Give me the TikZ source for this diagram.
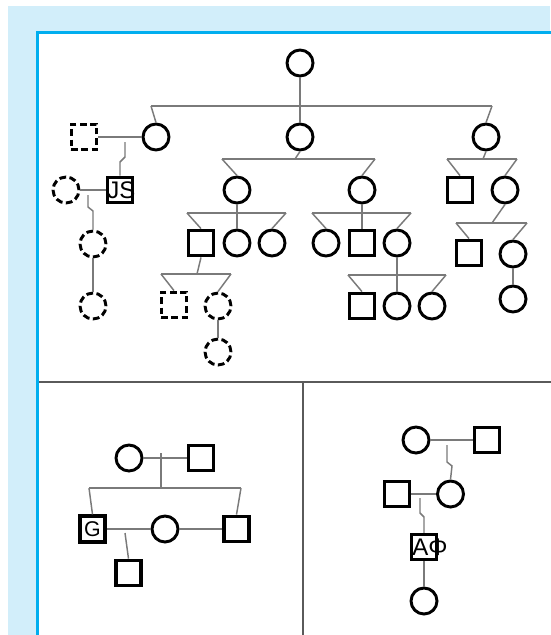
\documentclass[tikz,border=0pt]{standalone}
\usepackage{fontspec}
\setmainfont{Liberation Sans}
\definecolor{bgblue}{HTML}{D2EEFA}
\definecolor{frameblue}{HTML}{00AEEF}
\definecolor{conngray}{HTML}{7A7A7A}
\definecolor{divgray}{HTML}{5A5A5A}
\begin{document}
\begin{tikzpicture}[x=0.75pt,y=-0.75pt,
  fem/.style={circle,draw=black,fill=white,line width=2.2pt,minimum size=19.5pt,inner sep=0pt},
  mal/.style={rectangle,draw=black,fill=white,line width=2.6pt,minimum size=19pt,inner sep=0pt},
  unk/.style={dash pattern=on 5pt off 2.6pt},
  conn/.style={draw=conngray,line width=1.1pt},
  divider/.style={draw=divgray,line width=1.1pt},
  lbl/.style={font=\fontsize{18}{18}\selectfont,inner sep=0pt}]
% background and frame
\fill[white] (0,0) rectangle (550,635);
\useasboundingbox (0,0) rectangle (550,635);
\fill[bgblue] (8,6) rectangle (550,635);
\fill[white] (37.5,32.5) rectangle (550,635);
\draw[frameblue,line width=2.25pt] (37.5,640) -- (37.5,32.5) -- (555,32.5);
\draw[divider] (39,382) -- (555,382);
\draw[divider] (303,382) -- (303,640);

% ---------- top panel nodes ----------
\node[fem] (n1) at (300,63) {};
\node[mal,unk] (sd1) at (84,137) {};
\node[fem] (c2a) at (156,137) {};
\node[fem] (c2b) at (300,137) {};
\node[fem] (c2c) at (486,137) {};
\node[mal,label={[lbl,xshift=1pt]center:JS}] (js) at (120,190) {};
\node[fem,unk] (dc1) at (66,190) {};
\node[fem,unk] (dc2) at (93,244) {};
\node[fem,unk] (dc3) at (93,306) {};
\node[fem] (c3a) at (237,190) {};
\node[fem] (c3b) at (362,190) {};
\node[mal] (sq3c) at (460,190) {};
\node[fem] (c3d) at (505,190) {};
\node[mal] (sq4a) at (201,243) {};
\node[fem] (c4b) at (237,243) {};
\node[fem] (c4c) at (272,243) {};
\node[fem] (c4d) at (326,243) {};
\node[mal] (sq4e) at (362,243) {};
\node[fem] (c4f) at (397,243) {};
\node[mal] (sq4g) at (469,253) {};
\node[fem] (c4h) at (513,254) {};
\node[fem] (c5h) at (513,299) {};
\node[mal,unk] (dsq5a) at (174,305) {};
\node[fem,unk] (dc5b) at (218,306) {};
\node[mal] (sq5c) at (362,306) {};
\node[fem] (c5d) at (397,306) {};
\node[fem] (c5e) at (432,306) {};
\node[fem,unk] (dc6) at (218,352) {};

% ---------- top panel coordinates ----------
\coordinate (b1l) at (151,106);
\coordinate (b1r) at (492,106);
\coordinate (j1a) at (125,142);
\coordinate (j1b) at (125,157);
\coordinate (j1c) at (120,162);
\coordinate (j2a) at (88,195);
\coordinate (j2b) at (88,207);
\coordinate (j2c) at (93,211);
\coordinate (b2l) at (222,159);
\coordinate (b2r) at (375,159);
\coordinate (b2m) at (295,159);
\coordinate (b3l) at (447,159);
\coordinate (b3r) at (517,159);
\coordinate (b3m) at (483,159);
\coordinate (b4l) at (187,213);
\coordinate (b4r) at (286,213);
\coordinate (b5l) at (312,213);
\coordinate (b5r) at (411,213);
\coordinate (b6l) at (348,275);
\coordinate (b6r) at (446,275);
\coordinate (b7l) at (456,223);
\coordinate (b7r) at (527,223);
\coordinate (b7m) at (492,223);
\coordinate (b8l) at (161,274);
\coordinate (b8r) at (231,274);
\coordinate (b8m) at (197,274);

% ---------- top panel connectors ----------
\draw[conn] (n1) -- (c2b);
\draw[conn] (b1l) -- (b1r);
\draw[conn] (b1l) -- (c2a.north);
\draw[conn] (b1r) -- (c2c.north);
\draw[conn] (sd1) -- (c2a);
\draw[conn] (j1a) -- (j1b) -- (j1c) -- (js.north);
\draw[conn] (dc1) -- (js);
\draw[conn] (j2a) -- (j2b) -- (j2c) -- (dc2.north);
\draw[conn] (dc2) -- (dc3);
\draw[conn] (c2b.south) -- (b2m);
\draw[conn] (b2l) -- (b2r);
\draw[conn] (b2l) -- (c3a.north);
\draw[conn] (b2r) -- (c3b.north);
\draw[conn] (c2c.south) -- (b3m);
\draw[conn] (b3l) -- (b3r);
\draw[conn] (b3l) -- (sq3c.north);
\draw[conn] (b3r) -- (c3d.north);
\draw[conn] (c3a) -- (c4b);
\draw[conn] (b4l) -- (b4r);
\draw[conn] (b4l) -- (sq4a.north);
\draw[conn] (b4r) -- (c4c.north);
\draw[conn] (c3b) -- (sq4e);
\draw[conn] (b5l) -- (b5r);
\draw[conn] (b5l) -- (c4d.north);
\draw[conn] (b5r) -- (c4f.north);
\draw[conn] (c4f) -- (c5d);
\draw[conn] (b6l) -- (b6r);
\draw[conn] (b6l) -- (sq5c.north);
\draw[conn] (b6r) -- (c5e.north);
\draw[conn] (c3d.south) -- (b7m);
\draw[conn] (b7l) -- (b7r);
\draw[conn] (b7l) -- (sq4g.north);
\draw[conn] (b7r) -- (c4h.north);
\draw[conn] (c4h) -- (c5h);
\draw[conn] (sq4a.south) -- (b8m);
\draw[conn] (b8l) -- (b8r);
\draw[conn] (b8l) -- (dsq5a.north);
\draw[conn] (b8r) -- (dc5b.north);
\draw[conn] (dc5b) -- (dc6);

% ---------- bottom-left panel ----------
\node[fem] (bc1) at (129,458) {};
\node[mal] (bs1) at (201,458) {};
\node[mal,line width=2.9pt,label={[lbl,font=\fontsize{16}{16}\selectfont]center:G}] (g) at (92.5,529) {};
\node[fem] (bc2) at (165,529) {};
\node[mal] (bs3) at (236.5,529) {};
\node[mal] (bs4) at (128.5,573) {};
\coordinate (d1a) at (161,453);
\coordinate (d1b) at (161,488);
\coordinate (bl1) at (89,488);
\coordinate (bl2) at (241,488);
\coordinate (d2a) at (125,533);
\draw[conn] (bc1) -- (bs1);
\draw[conn] (d1a) -- (d1b);
\draw[conn] (bl1) -- (bl2);
\draw[conn] (bl1) -- (g.north);
\draw[conn] (bl2) -- (bs3.north);
\draw[conn] (g) -- (bc2);
\draw[conn] (bc2) -- (bs3);
\draw[conn] (d2a) -- (bs4.north);

% ---------- bottom-right panel ----------
\node[fem] (rc1) at (416,440) {};
\node[mal] (rs1) at (487,440) {};
\node[fem] (rc2) at (450.5,494) {};
\node[mal] (rs2) at (397,494) {};
\node[mal,line width=2.2pt,label={[lbl,xshift=4.5pt]center:AΦ}] (ao) at (424,547) {};
\node[fem] (rc3) at (424,601) {};
\coordinate (e1a) at (447,445);
\coordinate (e1b) at (447,462);
\coordinate (e1c) at (452,466);
\coordinate (e2a) at (420,498);
\coordinate (e2b) at (420,513);
\coordinate (e2c) at (424,517);
\draw[conn] (rc1) -- (rs1);
\draw[conn] (e1a) -- (e1b) -- (e1c) -- (rc2.north);
\draw[conn] (rs2) -- (rc2);
\draw[conn] (e2a) -- (e2b) -- (e2c) -- (ao.north);
\draw[conn] (ao) -- (rc3);
\end{tikzpicture}
\end{document}
